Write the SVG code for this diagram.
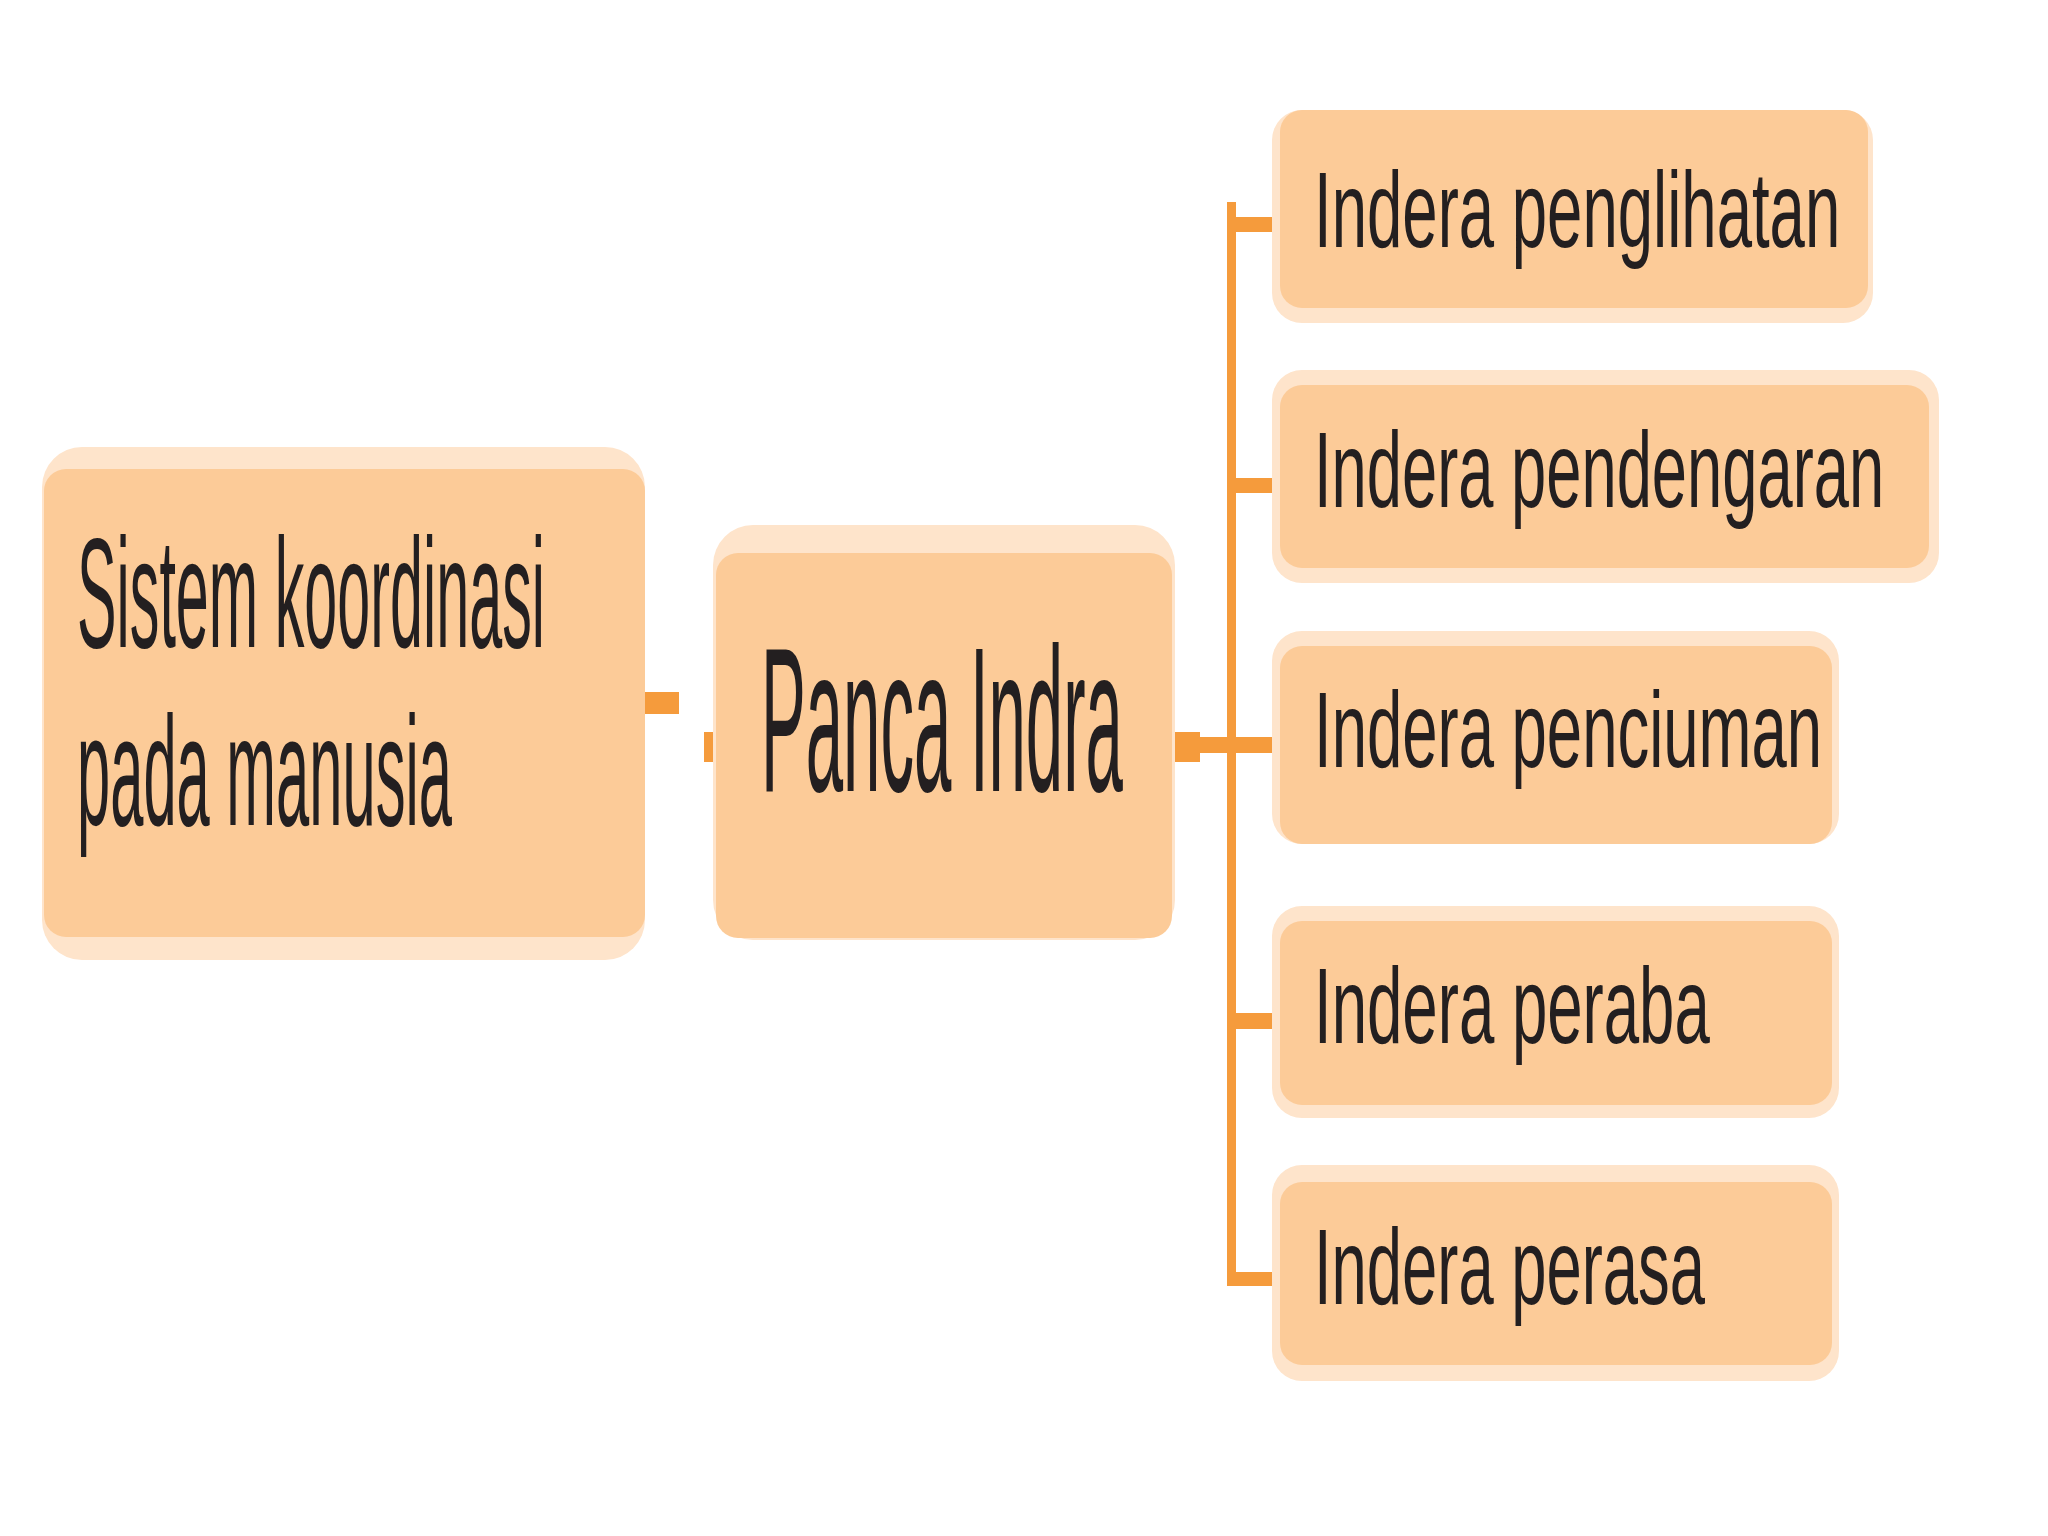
<svg xmlns="http://www.w3.org/2000/svg" width="2048" height="1536" viewBox="0 0 2048 1536">
<style>
.halo{fill:#FEE4CB}
.box{fill:#FCCB98}
.lbl{font-family:"Liberation Sans",Arial,sans-serif;fill:#231F20}
.ln{fill:#F59B3C}
</style>
<rect width="2048" height="1536" fill="#FFFFFF"/>
<g id="connectors">
<rect class="ln" x="645" y="692" width="34" height="22"/>
<rect class="ln" x="704" y="732" width="19" height="30"/>
<rect class="ln" x="1172" y="732" width="28" height="30"/>
<rect class="ln" x="1200" y="737" width="80" height="16"/>
<rect class="ln" x="1227" y="202" width="9" height="1084"/>
<rect class="ln" x="1227" y="217" width="53" height="15"/>
<rect class="ln" x="1227" y="478" width="53" height="15"/>
<rect class="ln" x="1227" y="1013" width="53" height="16"/>
<rect class="ln" x="1227" y="1272" width="53" height="14"/>
</g>
<g id="node-sistem">
<rect class="halo" x="42" y="447" width="603" height="513" rx="40"/>
<rect class="box" x="44" y="469" width="601" height="468" rx="22"/>
<text class="lbl" transform="translate(77,647) scale(0.383,1)" font-size="155" textLength="1222" lengthAdjust="spacingAndGlyphs">Sistem koordinasi</text>
<text class="lbl" transform="translate(77,825) scale(0.385,1)" font-size="155" textLength="974" lengthAdjust="spacingAndGlyphs">pada manusia</text>
</g>
<g id="node-panca">
<rect class="halo" x="713" y="525" width="462" height="415" rx="40"/>
<rect class="box" x="716" y="553" width="456" height="385" rx="22"/>
<text class="lbl" transform="translate(761,791) scale(0.326,1)" font-size="206" textLength="1110" lengthAdjust="spacingAndGlyphs">Panca Indra</text>
</g>
<g id="node-penglihatan">
<rect class="halo" x="1272" y="110" width="601" height="213" rx="30"/>
<rect class="box" x="1280" y="110" width="588" height="198" rx="22"/>
<text class="lbl" transform="translate(1314,247) scale(0.588,1)" font-size="108" textLength="895" lengthAdjust="spacingAndGlyphs">Indera penglihatan</text>
</g>
<g id="node-pendengaran">
<rect class="halo" x="1272" y="370" width="667" height="213" rx="30"/>
<rect class="box" x="1280" y="385" width="649" height="183" rx="22"/>
<text class="lbl" transform="translate(1314,507) scale(0.586,1)" font-size="108" textLength="973" lengthAdjust="spacingAndGlyphs">Indera pendengaran</text>
</g>
<g id="node-penciuman">
<rect class="halo" x="1272" y="631" width="567" height="213" rx="30"/>
<rect class="box" x="1280" y="646" width="552" height="198" rx="22"/>
<text class="lbl" transform="translate(1314,767) scale(0.588,1)" font-size="108" textLength="864" lengthAdjust="spacingAndGlyphs">Indera penciuman</text>
</g>
<g id="node-peraba">
<rect class="halo" x="1272" y="906" width="567" height="212" rx="30"/>
<rect class="box" x="1280" y="921" width="552" height="184" rx="22"/>
<text class="lbl" transform="translate(1314,1043) scale(0.589,1)" font-size="108" textLength="672" lengthAdjust="spacingAndGlyphs">Indera peraba</text>
</g>
<g id="node-perasa">
<rect class="halo" x="1272" y="1165" width="567" height="216" rx="30"/>
<rect class="box" x="1280" y="1182" width="552" height="183" rx="22"/>
<text class="lbl" transform="translate(1314,1304) scale(0.587,1)" font-size="108" textLength="666" lengthAdjust="spacingAndGlyphs">Indera perasa</text>
</g>
</svg>
